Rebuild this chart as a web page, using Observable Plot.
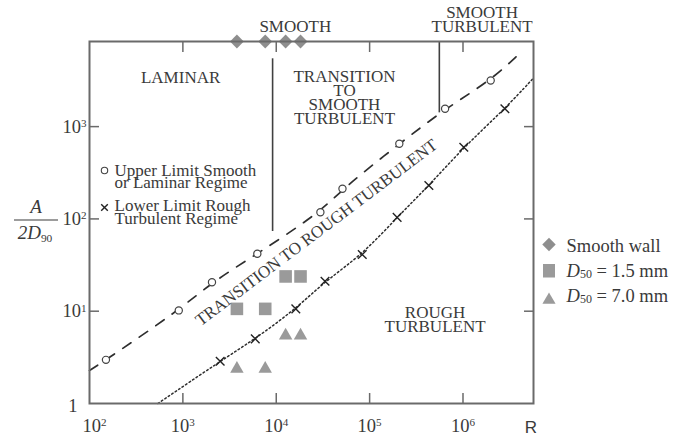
<!DOCTYPE html>
<html>
<head>
<meta charset="utf-8">
<script src="https://cdn.jsdelivr.net/npm/d3@7"></script>
<script src="https://cdn.jsdelivr.net/npm/@observablehq/plot@0.6"></script>
<style>
  html, body { margin: 0; padding: 0; background: #fff; }
  #chart svg { display: block; }
</style>
</head>
<body>
<div id="chart"></div>
<script>
// Ripple regime chart: Reynolds number R against relative amplitude A / 2D90.

// Upper limit of the smooth / laminar regime (open circles)
const upperR = [150, 904, 2050, 6270, 29700, 51200, 208000, 643000, 1980000];
const upperA = [2.97, 10.2, 20.6, 41.9, 118, 212, 651, 1560, 3160];
// Lower limit of the rough turbulent regime (crosses)
const lowerR = [2510, 5960, 16200, 33300, 83400, 197000, 431000, 1020000, 2810000];
const lowerA = [2.87, 5.02, 10.6, 21.1, 41.1, 104, 230, 598, 1560];
// Where the two limit curves meet the frame
const upperEndsR = [100, 4000000];
const upperEndsA = [2.28, 6140];
const lowerEndsR = [540, 5600000];
const lowerEndsA = [1, 3300];

// Experiments: R of each run and A / 2D90 for each bed
const runR = [3790, 7620, 12600, 18200];
const fineA = [10.6, 10.6, 23.8, 23.8];     // D50 = 1.5 mm
const coarseA = [2.38, 2.38, 5.45, 5.45];   // D50 = 7.0 mm

// Regime boundaries (vertical lines)
const boundaryR = [9140, 558000];
const boundaryTopA = [5430, 8360];
const boundaryBottomA = [73, 1410];

// Region names
const regionNames = ["LAMINAR", "TRANSITION\nTO\nSMOOTH\nTURBULENT", "ROUGH\nTURBULENT"];
const regionR = [946, 53800, 502000];
const regionA = [2950, 1072, 5.92];
const edgeNames = ["SMOOTH", "SMOOTH\nTURBULENT"];
const edgeR = [16000, 1600000];
const bandName = "TRANSITION TO ROUGH TURBULENT";
const bandR = [26900];
const bandA = [71.2];

// Axes
const xDomain = [100, 5.69e6];
const yDomain = [1, 8360];
const xLabelTicks = [1e2, 1e3, 1e4, 1e5, 1e6];
const xInnerTicks = [1e3, 1e4, 1e5, 1e6];
const yLabelTicks = [1, 10, 100, 1000];
const yInnerTicks = [10, 100, 1000];

const serif = "'Liberation Serif', 'Times New Roman', serif";
const ink = "#3a3a3a";
const frameGray = "#6a6a6a";
const markerGray = "#9a9a9a";

const rows = (xs, ys) => xs.map((R, i) => ({R, A: ys[i]}));
const upper = rows(upperR, upperA);
const lower = rows(lowerR, lowerA);
const upperCurve = rows([upperEndsR[0], ...upperR, upperEndsR[1]], [upperEndsA[0], ...upperA, upperEndsA[1]]);
const lowerCurve = rows([lowerEndsR[0], ...lowerR, lowerEndsR[1]], [lowerEndsA[0], ...lowerA, lowerEndsA[1]]);
const fine = rows(runR, fineA);
const coarse = rows(runR, coarseA);
const boundaries = boundaryR.map((R, i) => ({R, top: boundaryTopA[i], bottom: boundaryBottomA[i]}));
const regions = regionNames.map((label, i) => ({label, R: regionR[i], A: regionA[i]}));
const edges = edgeNames.map((label, i) => ({label, R: edgeR[i]}));

const power = d => d === 1 ? "1" : "10^" + Math.round(Math.log10(d));
const tickStyle = {stroke: frameGray, strokeWidth: 1.5, tickSize: -10, tickFormat: () => "", label: null};

const svg = Plot.plot({
  width: 683,
  height: 435,
  marginTop: 41,
  marginRight: 150,
  marginBottom: 32,
  marginLeft: 89,
  style: {fontFamily: serif, color: ink, background: "white"},
  x: {type: "log", domain: xDomain},
  y: {type: "log", domain: yDomain},
  marks: [
    // inward ticks on all four sides
    Plot.axisX(xInnerTicks, {anchor: "bottom", ...tickStyle}),
    Plot.axisX(xInnerTicks, {anchor: "top", ...tickStyle}),
    Plot.axisY(yInnerTicks, {anchor: "left", ...tickStyle}),
    Plot.axisY(yInnerTicks, {anchor: "right", ...tickStyle}),
    // tick labels
    Plot.axisX(xLabelTicks, {anchor: "bottom", tickSize: 0, tickPadding: 15, fill: ink, tickFormat: power, label: null}),
    Plot.axisY(yLabelTicks, {anchor: "left", tickSize: 0, tickPadding: 3, fill: ink, tickFormat: power, label: null}),
    // regime boundaries
    Plot.ruleX(boundaries, {x: "R", y1: "top", y2: "bottom", stroke: "#404040", strokeWidth: 1.6}),
    // limit curves
    Plot.line(upperCurve, {x: "R", y: "A", curve: "basis", stroke: "#2e2e2e", strokeWidth: 1.7, strokeDasharray: "10,10"}),
    Plot.line(lowerCurve, {x: "R", y: "A", curve: "basis", stroke: "#2e2e2e", strokeWidth: 1.5, strokeDasharray: "1.6,2.6"}),
    Plot.dot(upper, {x: "R", y: "A", r: 3.6, stroke: "#444", strokeWidth: 1.2, fill: "white"}),
    Plot.dot(lower, {x: "R", y: "A", symbol: "times", r: 4, stroke: "#222", strokeWidth: 1.4}),
    // experiments
    Plot.dot(fine, {x: "R", y: "A", symbol: "square", r: 7.1, fill: markerGray}),
    Plot.dot(coarse, {x: "R", y: "A", symbol: "triangle", r: 5, fill: markerGray}),
    Plot.dot(runR, {x: d => d, frameAnchor: "top", symbol: "diamond2", r: 6.2, fill: "#8e8e8e"}),
    // region names
    Plot.text(regions, {x: "R", y: "A", text: "label", lineAnchor: "bottom", lineHeight: 0.82, fontSize: 17, fill: ink}),
    Plot.text(edges, {x: "R", text: "label", frameAnchor: "top", dy: -10, lineAnchor: "bottom", lineHeight: 0.8, fontSize: 17, fill: ink}),
    Plot.text(bandR, {x: d => d, y: (d, i) => bandA[i], text: () => bandName, rotate: -37, fontSize: 17, fill: ink}),
    Plot.frame({stroke: frameGray, strokeWidth: 2})
  ]
});

const root = d3.select(svg);

// tick labels: larger type and superscript exponents
root.selectAll("text").each(function () {
  const s = this.textContent;
  const axis = (this.parentNode.getAttribute("aria-label") || "");
  if (!axis.includes("tick label")) return;
  const t = d3.select(this).style("font-size", "18.5px");
  if (s === "1") t.attr("dx", -9).attr("dy", 3);
  if (!s.includes("^")) return;
  const [base, exp] = s.split("^");
  if (axis.startsWith("x") && exp === "2") t.attr("dx", 5);
  t.text(base);
  t.append("tspan").attr("dy", "-0.5em").attr("font-size", "0.6em").text(exp);
});

// axis titles
const titles = root.append("g").attr("font-family", serif).attr("fill", ink).attr("text-anchor", "middle");
titles.append("text").attr("x", 531).attr("y", 432.5)
  .attr("font-family", "'Liberation Sans', Arial, sans-serif").attr("font-size", 17).text("R");
titles.append("text").attr("x", 36).attr("y", 213)
  .attr("font-size", 19).attr("font-style", "italic").text("A");
titles.append("line").attr("x1", 14).attr("x2", 58).attr("y1", 220).attr("y2", 220)
  .attr("stroke", ink).attr("stroke-width", 1.2);
const den = titles.append("text").attr("x", 35).attr("y", 239)
  .attr("font-size", 19).attr("font-style", "italic");
den.append("tspan").text("2D");
den.append("tspan").attr("dy", "0.25em").attr("font-size", "0.6em").attr("font-style", "normal").text("90");

// key for the two limit curves
const key = root.append("g").attr("font-family", serif).attr("fill", ink)
  .attr("font-size", 17).attr("text-anchor", "start");
key.append("circle").attr("cx", 104.5).attr("cy", 170.5).attr("r", 3.2)
  .attr("fill", "white").attr("stroke", "#444").attr("stroke-width", 1.1);
key.append("path").attr("transform", "translate(104.5,207.5)")
  .attr("d", d3.symbol(d3.symbolTimes, 30)()).attr("stroke", "#222").attr("stroke-width", 1.4).attr("fill", "none");
const keyLines = [["Upper Limit Smooth", 175.5], ["or Laminar Regime", 188], ["Lower Limit Rough", 211], ["Turbulent Regime", 224]];
keyLines.forEach(([s, y]) => key.append("text").attr("x", 114.5).attr("y", y).text(s));

// key for the experiments
const exp = root.append("g").attr("font-family", serif).attr("fill", ink)
  .attr("font-size", 18.5).attr("text-anchor", "start");
exp.append("path").attr("transform", "translate(549,244.5)")
  .attr("d", d3.symbol(d3.symbolDiamond2, 115)()).attr("fill", "#8e8e8e");
exp.append("rect").attr("x", 543).attr("y", 264).attr("width", 12).attr("height", 13.5).attr("fill", markerGray);
exp.append("path").attr("transform", "translate(549,300)")
  .attr("d", d3.symbol(d3.symbolTriangle, 75)()).attr("fill", markerGray);
exp.append("text").attr("x", 566.5).attr("y", 251.5).text("Smooth wall");
[["1.5", 277], ["7.0", 302]].forEach(([v, y]) => {
  const t = exp.append("text").attr("x", 566.5).attr("y", y);
  t.append("tspan").attr("font-style", "italic").text("D");
  t.append("tspan").attr("font-size", 12).attr("dy", 1).text("50");
  t.append("tspan").attr("dy", -1).text(" = " + v + " mm");
});

document.getElementById("chart").appendChild(svg);
</script>
</body>
</html>
